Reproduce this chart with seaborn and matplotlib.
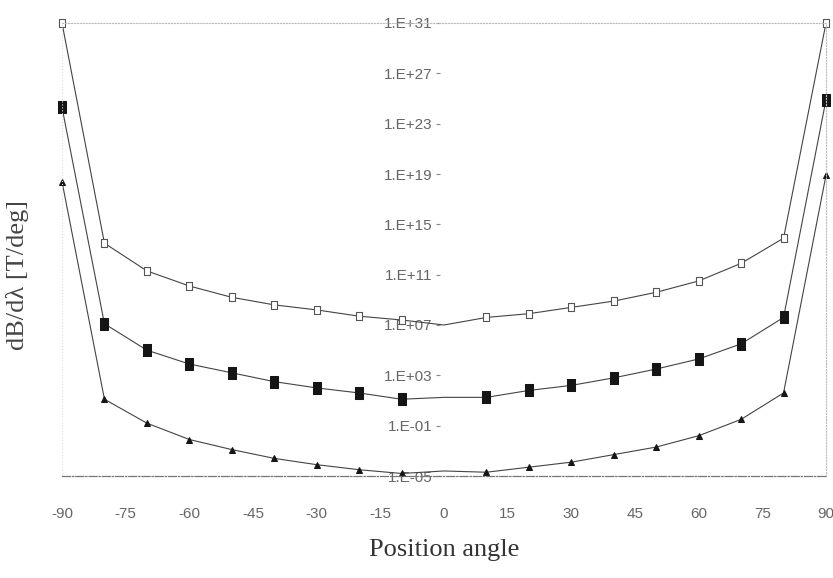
import numpy as np
import pandas as pd
import matplotlib
matplotlib.use("Agg")
import matplotlib.pyplot as plt
from matplotlib.ticker import FixedLocator, FuncFormatter, NullLocator
import seaborn as sns

# position angle in degrees
angles = [-90, -80, -70, -60, -50, -40, -30, -20, -10, 0,
          10, 20, 30, 40, 50, 60, 70, 80, 90]

# log10 of dB/dlambda
log_open = [31.0, 13.5, 11.3, 10.1, 9.2, 8.6, 8.2, 7.7, 7.4, 7.0,
            7.6, 7.9, 8.4, 8.9, 9.6, 10.5, 11.9, 13.9, 31.0]
log_filled = [24.3, 7.1, 5.0, 3.9, 3.2, 2.5, 2.0, 1.6, 1.1, 1.25,
              1.25, 1.8, 2.2, 2.8, 3.5, 4.3, 5.5, 7.6, 24.9]
log_tri = [18.4, 1.1, -0.8, -2.1, -2.9, -3.6, -4.1, -4.5, -4.8, -4.6,
           -4.7, -4.3, -3.9, -3.3, -2.7, -1.8, -0.5, 1.6, 18.9]

y_exponents = [31, 27, 23, 19, 15, 11, 7, 3, -1, -5]
x_ticks = list(range(-90, 91, 15))

df = pd.DataFrame({
    "angle": angles,
    "open": np.power(10.0, log_open),
    "filled": np.power(10.0, log_filled),
    "tri": np.power(10.0, log_tri),
})

sns.set_style("white")
plt.rcParams["font.family"] = ["Liberation Sans Narrow", "Liberation Sans", "DejaVu Sans"]

fig = plt.figure(figsize=(8.33, 5.78), dpi=100)
ax = fig.add_axes([62 / 833, 1 - 476 / 578, (826 - 62) / 833, (476 - 23) / 578])

# tall rectangle marker like the original
rect = [(-0.7, -1), (0.7, -1), (0.7, 1), (-0.7, 1), (-0.7, -1)]
marks = [i for i, a in enumerate(angles) if a != 0]
line_kw = dict(color="#444444", linewidth=0.8, markevery=marks, clip_on=False)

sns.lineplot(data=df, x="angle", y="open", ax=ax, marker=rect, markersize=6,
             markerfacecolor="white", markeredgecolor="#555555",
             markeredgewidth=0.8, **line_kw)
sns.lineplot(data=df, x="angle", y="filled", ax=ax, marker=rect, markersize=9,
             markerfacecolor="#151515", markeredgecolor="#151515", **line_kw)
sns.lineplot(data=df, x="angle", y="tri", ax=ax, marker="^", markersize=5,
             markerfacecolor="#151515", markeredgecolor="#151515", **line_kw)

ax.set_yscale("log")
ax.set_xlim(-90, 90)
ax.set_ylim(1e-5, 1e31)

ax.yaxis.set_major_locator(FixedLocator([10.0 ** e for e in y_exponents]))
ax.yaxis.set_major_formatter(FuncFormatter(
    lambda v, p: "1.E{:+03d}".format(int(round(np.log10(v))))))
ax.yaxis.set_minor_locator(NullLocator())
ax.set_xticks(x_ticks)
ax.set_xticklabels([str(t) for t in x_ticks])

# y axis sits near x = 0, invisible line, labels just left of it
ax.spines["left"].set_position(("data", -2))
ax.spines["left"].set_visible(False)
ax.spines["top"].set_linestyle(":")
ax.spines["top"].set_color("#bbbbbb")
ax.spines["right"].set_linestyle(":")
ax.spines["right"].set_color("#bbbbbb")
ax.spines["bottom"].set_linestyle("-.")
ax.spines["bottom"].set_color("#777777")
ax.spines["bottom"].set_linewidth(0.9)
ax.axvline(-90, color="#dddddd", linestyle=":", linewidth=0.8)

ax.tick_params(axis="y", direction="in", length=3, color="#888888",
               labelsize=11, labelcolor="#666666", pad=2, left=True)
ax.tick_params(axis="x", length=0, labelsize=11, labelcolor="#666666", pad=22)

ax.set_xlabel("Position angle", family="Liberation Serif", fontsize=19,
              color="#333333", labelpad=13)
ax.set_ylabel("")
fig.text(18 / 833, 1 - 275 / 578, "dB/d\u03bb [T/deg]", family="Liberation Serif",
         fontsize=19, color="#444444", rotation=90, ha="center", va="center")

fig.savefig("out.png", dpi=100)
